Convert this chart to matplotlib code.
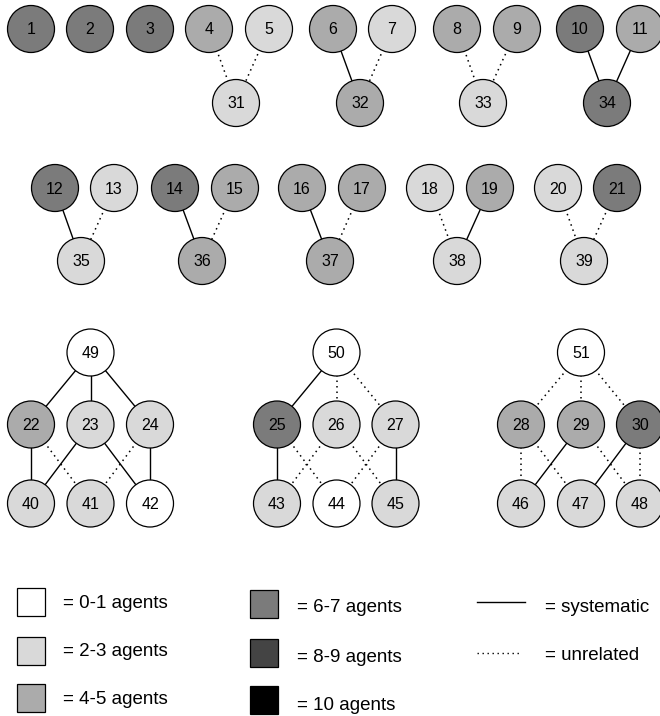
#!/usr/bin/python

# Draw the agent-count graphs: nodes shaded by number of agents, edges systematic/unrelated

import matplotlib
matplotlib.use("Agg")
import matplotlib.pyplot as plt
from matplotlib.patches import Circle, Rectangle

plt.rcParams['font.family'] = ['Liberation Sans', 'DejaVu Sans']

################################## DATA ########################################################
# shade class of each node: 0 = 0-1, 1 = 2-3, 2 = 4-5, 3 = 6-7, 4 = 8-9, 5 = 10 agents
shade_labels = ["= 0-1 agents", "= 2-3 agents", "= 4-5 agents",
                "= 6-7 agents", "= 8-9 agents", "= 10 agents"]
shade_colors = ["#ffffff", "#d9d9d9", "#ababab", "#7b7b7b", "#444444", "#000000"]

node_shade = {
	1: 3, 2: 3, 3: 3, 4: 2, 5: 1, 6: 2, 7: 1, 8: 2, 9: 2, 10: 3, 11: 2,
	31: 1, 32: 2, 33: 1, 34: 3,
	12: 3, 13: 1, 14: 3, 15: 2, 16: 2, 17: 2, 18: 1, 19: 2, 20: 1, 21: 3,
	35: 1, 36: 2, 37: 2, 38: 1, 39: 1,
	49: 0, 22: 2, 23: 1, 24: 1, 40: 1, 41: 1, 42: 0,
	50: 0, 25: 3, 26: 1, 27: 1, 43: 1, 44: 0, 45: 1,
	51: 0, 28: 2, 29: 2, 30: 3, 46: 1, 47: 1, 48: 1,
}

# edges: (parent, child)
systematic = [(6, 32), (10, 34), (11, 34), (12, 35), (14, 36), (16, 37), (19, 38),
              (49, 22), (49, 23), (49, 24), (22, 40), (23, 40), (23, 42), (24, 42),
              (50, 25), (25, 43), (27, 45),
              (29, 46), (30, 47)]
unrelated = [(4, 31), (5, 31), (7, 32), (8, 33), (9, 33), (13, 35), (15, 36),
             (17, 37), (18, 38), (20, 39), (21, 39),
             (22, 41), (24, 41),
             (50, 26), (50, 27), (25, 44), (26, 43), (26, 45), (27, 44),
             (51, 28), (51, 29), (51, 30), (28, 46), (28, 47), (29, 48), (30, 48)]

################################## LAYOUT ######################################################
pos = {}
row1_x = [31, 90, 150, 209, 269, 333, 392, 457, 517, 580, 640]
for i, x in enumerate(row1_x):
	pos[i + 1] = (x, 29)
for n, x in zip([31, 32, 33, 34], [236, 360, 483, 607]):
	pos[n] = (x, 103)
row3_x = [55, 114, 175, 235, 302, 362, 430, 490, 558, 617]
for i, x in enumerate(row3_x):
	pos[i + 12] = (x, 188)
for n, x in zip([35, 36, 37, 38, 39], [81, 202, 330, 457, 584]):
	pos[n] = (x, 261)

graph_x = [[31, 90.5, 150], [277, 336.5, 395.5], [521, 581, 640]]
tops = [49, 50, 51]
for g in range(3):
	pos[tops[g]] = (graph_x[g][1], 352.5)
	for k in range(3):
		pos[22 + 3 * g + k] = (graph_x[g][k], 424.5)
		pos[40 + 3 * g + k] = (graph_x[g][k], 503.5)

radius = 23.5

################################## PLOT ########################################################
fig = plt.figure(figsize=(6.6, 7.16), dpi=100)
ax = fig.add_axes([0, 0, 1, 1])
ax.set_xlim(0, 660)
ax.set_ylim(716, 0)
ax.axis('off')

for a, b in systematic:
	ax.plot([pos[a][0], pos[b][0]], [pos[a][1], pos[b][1]], color='black', lw=1.0, zorder=1)
for a, b in unrelated:
	ax.plot([pos[a][0], pos[b][0]], [pos[a][1], pos[b][1]], color='black', lw=1.1,
	        linestyle=(0, (1, 2.6)), zorder=1)

for n, (x, y) in pos.items():
	ax.add_patch(Circle((x, y), radius, facecolor=shade_colors[node_shade[n]],
	                    edgecolor='black', lw=0.9, zorder=2))
	ax.text(x, y + 1, str(n), ha='center', va='center', fontsize=11.5, zorder=3)

# Legend
box_pos = [(31, 602), (31, 651), (31, 698), (264, 604), (264, 653), (264, 700)]
text_pos = [(63, 603), (63, 652), (63, 699), (297, 608), (297, 658), (297, 705)]
for i in range(6):
	bx, by = box_pos[i]
	ax.add_patch(Rectangle((bx - 14, by - 14), 28, 28, facecolor=shade_colors[i],
	                       edgecolor='black', lw=0.9))
	ax.text(text_pos[i][0], text_pos[i][1], shade_labels[i], ha='left', va='center', fontsize=13.5)

ax.plot([477, 525], [602, 602], color='black', lw=1.0)
ax.text(545, 607, "= systematic", ha='left', va='center', fontsize=13.5)
ax.plot([477, 522], [653, 653], color='black', lw=1.0, linestyle=(0, (1, 2.6)))
ax.text(545, 655, "= unrelated", ha='left', va='center', fontsize=13.5)

plt.savefig("out.png", dpi=100)
